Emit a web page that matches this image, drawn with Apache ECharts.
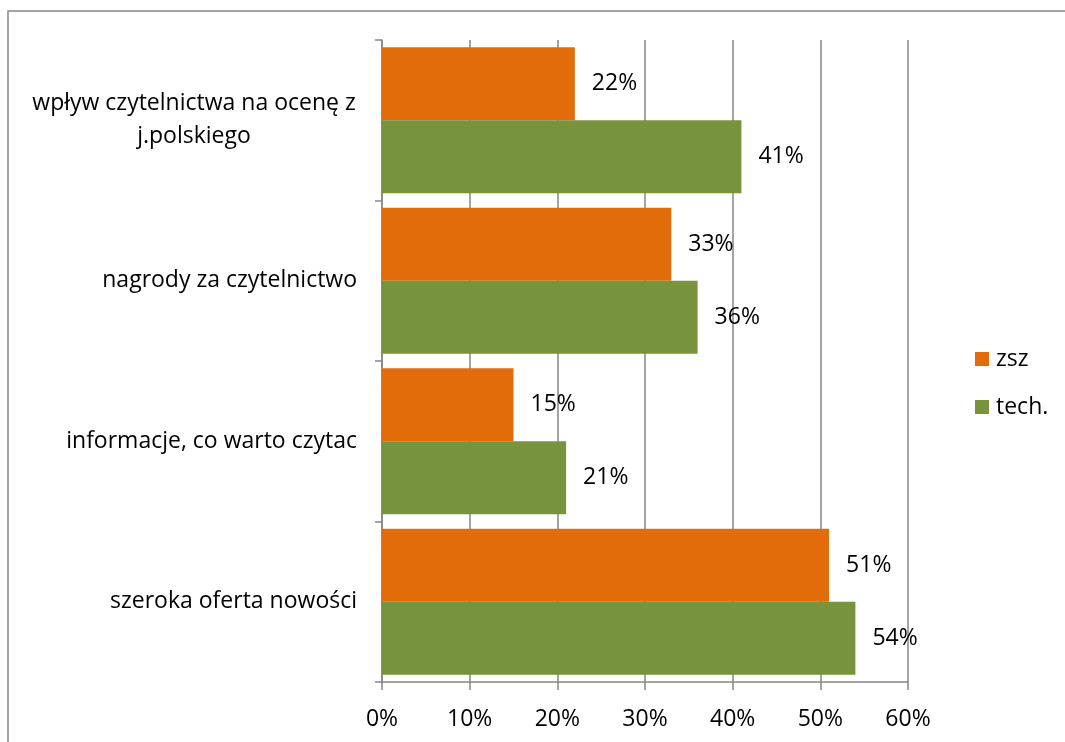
<!DOCTYPE html>
<html><head><meta charset="utf-8">
<style>html,body{margin:0;padding:0;background:#fff}#c{width:1065px;height:742px}</style>
<script src="https://cdn.jsdelivr.net/npm/echarts@6/dist/echarts.min.js"></script>
</head><body><div id="c"></div>
<script>
const categories = ['szeroka oferta nowości', 'informacje, co warto czytac', 'nagrody za czytelnictwo', 'wpływ czytelnictwa na ocenę z\nj.polskiego'];
const zsz = [51, 15, 33, 22];
const tech = [54, 21, 36, 41];
const xTicks = [0, 10, 20, 30, 40, 50, 60];
const FONT = 'Open Sans';
const FS = 23;
const axisGray = '#868686';
const chart = echarts.init(document.getElementById('c'));
chart.setOption({
  animation: false,
  textStyle: {fontFamily: FONT},
  graphic: [{type: 'rect', shape: {x: 8, y: 11, width: 1200, height: 900}, style: {fill: 'none', stroke: axisGray, lineWidth: 1.5}, silent: true}],
  grid: {left: 382, right: 157, top: 40, bottom: 60, containLabel: false},
  legend: {
    orient: 'vertical', left: 975, top: 347, padding: 0, itemWidth: 14, itemHeight: 14, itemGap: 24,
    icon: 'rect', textStyle: {fontFamily: FONT, fontSize: FS, color: '#000', lineHeight: 24, padding: [0,0,0,2]},
    data: ['zsz', 'tech.']
  },
  xAxis: {
    type: 'value', min: xTicks[0], max: xTicks[xTicks.length - 1], interval: 10,
    axisLine: {show: true, lineStyle: {color: axisGray, width: 1.5}},
    axisTick: {show: true, length: 8, lineStyle: {color: axisGray, width: 1.5}},
    axisLabel: {formatter: v => v + '%', fontFamily: FONT, fontSize: FS, color: '#000', margin: 26},
    splitLine: {show: true, lineStyle: {color: axisGray, width: 1.5}}
  },
  yAxis: {
    type: 'category', data: categories,
    axisLine: {show: true, lineStyle: {color: axisGray, width: 1.5}},
    axisTick: {show: true, length: 7, lineStyle: {color: axisGray, width: 1.5}},
    axisLabel: {
      fontFamily: FONT, fontSize: FS, color: '#000', margin: 25, align: 'right', lineHeight: 33,
      formatter: v => v.indexOf('\n') >= 0 ? v.split('\n').map(s => '{c|' + s + '}').join('\n') : v,
      rich: {c: {width: 326, align: 'center', fontFamily: FONT, fontSize: FS, color: '#000', lineHeight: 33}}
    }
  },
  series: [
    {name: 'zsz', type: 'bar', data: zsz, itemStyle: {color: '#E36C0A'}, barGap: '0%', barCategoryGap: '9%',
     label: {show: true, position: 'right', distance: 17, formatter: p => p.value + '%', fontFamily: FONT, fontSize: FS, color: '#000'}},
    {name: 'tech.', type: 'bar', data: tech, itemStyle: {color: '#77933C'}, barGap: '0%', barCategoryGap: '9%',
     label: {show: true, position: 'right', distance: 17, formatter: p => p.value + '%', fontFamily: FONT, fontSize: FS, color: '#000'}}
  ]
});
</script></body></html>
